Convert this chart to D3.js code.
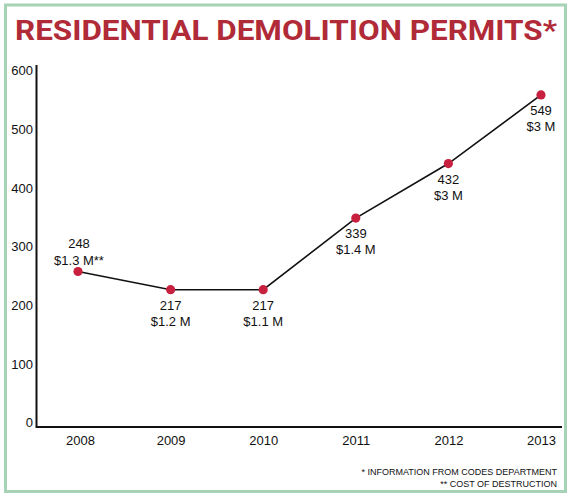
<!DOCTYPE html>
<html>
<head>
<meta charset="utf-8">
<script src="https://cdn.jsdelivr.net/npm/d3@7"></script>
<style>
  html, body { margin: 0; padding: 0; background: #fff; }
  svg { display: block; }
</style>
</head>
<body>
<svg id="chart" width="572" height="500"></svg>
<script>
// ---- data ----
const years = ["2008", "2009", "2010", "2011", "2012", "2013"];
const permits = [248, 217, 217, 339, 432, 549];
const costs = ["$1.3 M**", "$1.2 M", "$1.1 M", "$1.4 M", "$3 M", "$3 M"];
const yTicks = [0, 100, 200, 300, 400, 500, 600];
const title = "RESIDENTIAL DEMOLITION PERMITS*";
const footnotes = ["* INFORMATION FROM CODES DEPARTMENT", "** COST OF DESTRUCTION"];

// ---- layout ----
const axisX = 36.5, axisBottom = 427, axisTop = 65, axisRight = 562;
const svg = d3.select("#chart");

// border
svg.append("rect")
  .attr("x", 5.5).attr("y", 5).attr("width", 560).attr("height", 486.5)
  .attr("fill", "none").attr("stroke", "#a6d3b6").attr("stroke-width", 3);

// title
svg.append("text")
  .attr("x", 15).attr("y", 39.5)
  .attr("textLength", 542).attr("lengthAdjust", "spacingAndGlyphs")
  .attr("font-family", "Roboto, 'Liberation Sans', sans-serif")
  .attr("font-weight", 700).attr("font-size", 28.5)
  .attr("fill", "#b02a37")
  .text(title);

const x = d3.scalePoint().domain(years).range([78, 541]);
const y = d3.scaleLinear().domain([0, 600]).range([417, 65]);

const font = "'Liberation Sans', Arial, sans-serif";

// y axis (labels only, via d3 axis)
const yAxis = d3.axisLeft(y).tickValues(yTicks).tickSize(0).tickPadding(0);
const gy = svg.append("g").attr("transform", `translate(${axisX - 3.5},0)`).call(yAxis);
gy.select(".domain").remove();
gy.selectAll("text")
  .attr("font-family", font).attr("font-size", 13).attr("fill", "#111")
  .attr("dy", "0.32em").attr("y", 5.5);

// x axis (labels only)
const xAxis = d3.axisBottom(x).tickSize(0).tickPadding(0);
const gx = svg.append("g").attr("transform", `translate(0,${axisBottom})`).call(xAxis);
gx.select(".domain").remove();
gx.selectAll("text")
  .attr("font-family", font).attr("font-size", 13).attr("fill", "#111")
  .attr("dy", 0).attr("y", 17.5);
gx.selectAll(".tick").filter((d, i) => i === 0).select("text").attr("x", 2);

// axis lines
svg.append("line").attr("x1", axisX).attr("x2", axisX).attr("y1", axisTop).attr("y2", axisBottom + 1)
  .attr("stroke", "#111").attr("stroke-width", 2);
svg.append("line").attr("x1", axisX).attr("x2", axisRight).attr("y1", axisBottom).attr("y2", axisBottom)
  .attr("stroke", "#111").attr("stroke-width", 2);

// line
const pts = years.map((yr, i) => ({ yr, v: permits[i], c: costs[i], i }));
const line = d3.line().x(d => x(d.yr)).y(d => y(d.v));
svg.append("path").datum(pts).attr("d", line)
  .attr("fill", "none").attr("stroke", "#111").attr("stroke-width", 1.6);

// points
svg.selectAll("circle.pt").data(pts).enter().append("circle")
  .attr("class", "pt")
  .attr("cx", d => x(d.yr)).attr("cy", d => y(d.v)).attr("r", 4.6)
  .attr("fill", "#c8213f");

// value labels
const lbl = svg.selectAll("g.lbl").data(pts).enter().append("g")
  .attr("class", "lbl")
  .attr("transform", d => `translate(${x(d.yr) + (d.i === 0 ? 1 : 0)},${y(d.v)})`);
lbl.append("text")
  .attr("text-anchor", "middle").attr("font-family", font).attr("font-size", 13).attr("fill", "#111")
  .attr("y", d => d.i === 0 ? -24 : 20)
  .text(d => d.v);
lbl.append("text")
  .attr("text-anchor", "middle").attr("font-family", font).attr("font-size", 13).attr("fill", "#111")
  .attr("y", d => d.i === 0 ? -7 : 36)
  .text(d => d.c);

// footnotes
const fnY = [474.5, 486.5];
svg.selectAll("text.fn").data(footnotes).enter().append("text")
  .attr("class", "fn")
  .attr("x", 557).attr("y", (d, i) => fnY[i])
  .attr("text-anchor", "end")
  .attr("font-family", font).attr("font-size", 9).attr("fill", "#111")
  .text(d => d);
</script>
</body>
</html>
